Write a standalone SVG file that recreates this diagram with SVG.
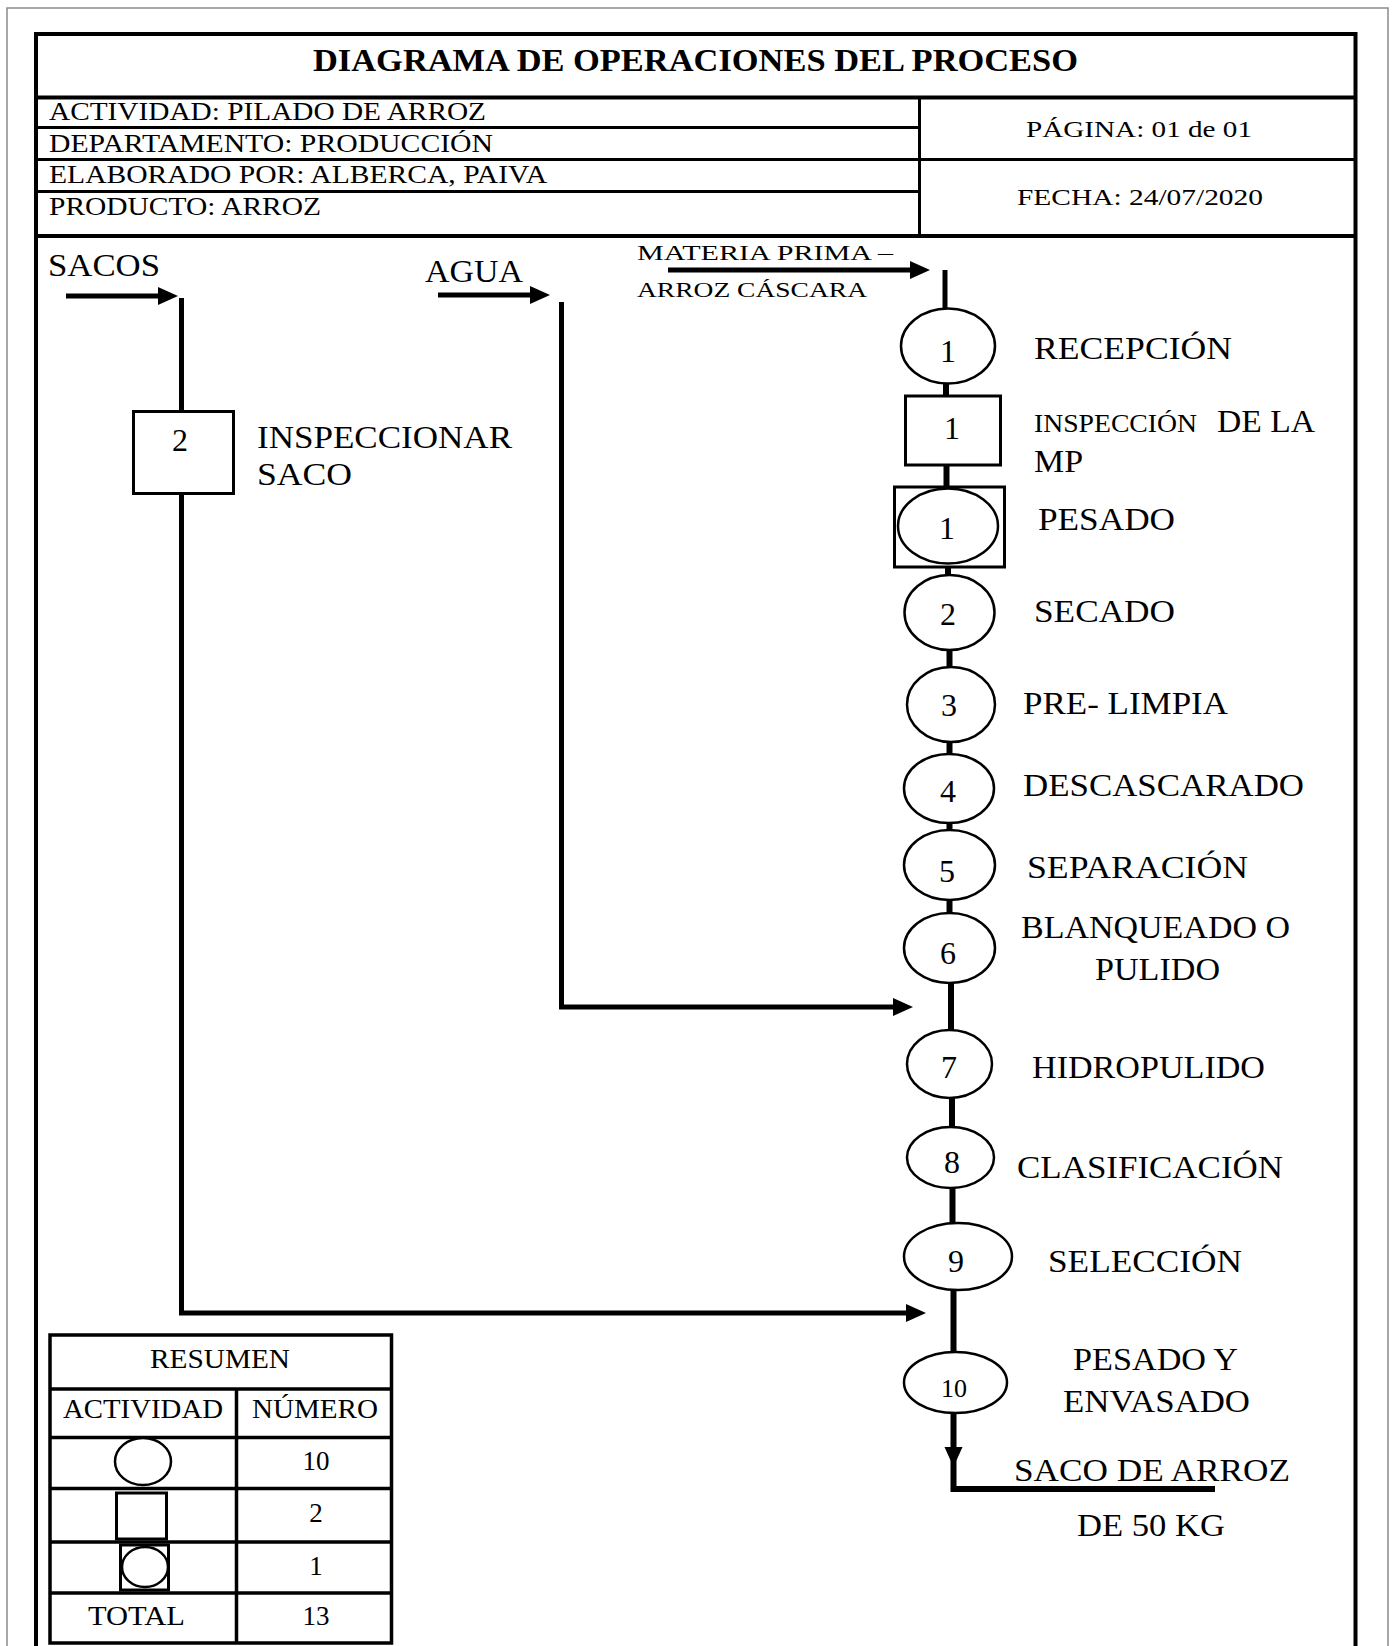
<svg xmlns="http://www.w3.org/2000/svg" width="1393" height="1646" viewBox="0 0 1393 1646">
<style>
text{font-family:'Liberation Serif','Times New Roman',serif;fill:#000}
.t{font-size:31px;font-weight:bold}
.h{font-size:25px}
.h2{font-size:23px}
.lbl{font-size:32px}
.sm{font-size:21px}
.num{font-size:32px;text-anchor:middle}
.rs{font-size:27px}
.rn{font-size:27px;text-anchor:middle}
.grid{stroke:#000;stroke-width:3;fill:none}
.frame{stroke:#000;stroke-width:4;fill:none}
.node{fill:#fff;stroke:#000;stroke-width:2.5}
.box{fill:#fff;stroke:#000;stroke-width:3}
.flow{stroke:#000;stroke-width:5;fill:none}
.chain{stroke:#000;stroke-width:6;fill:none}
.arr{marker-end:url(#ah)}
</style>
<defs>
<marker id="ah" markerUnits="userSpaceOnUse" markerWidth="22" markerHeight="20" refX="12" refY="9" orient="auto">
<path d="M0,0 L20,9 L0,18 Z" fill="#000"/>
</marker>
</defs>
<rect x="0" y="0" width="1393" height="1646" fill="#fff"/>
<path d="M7 1646 V8 H1388 V1646" fill="none" stroke="#8a8a8a" stroke-width="1.5"/>

<g id="header">
<path class="frame" d="M36 1650 V34 H1355.5 V1650"/>
<line class="frame" x1="36" y1="97.5" x2="1355.5" y2="97.5"/>
<line class="frame" x1="36" y1="236" x2="1355.5" y2="236"/>
<line class="grid" x1="919.5" y1="97.5" x2="919.5" y2="236"/>
<line class="grid" x1="36" y1="127.5" x2="919.5" y2="127.5"/>
<line class="grid" x1="36" y1="159.5" x2="1355.5" y2="159.5"/>
<line class="grid" x1="36" y1="191.5" x2="919.5" y2="191.5"/>
<text class="t" x="313" y="71" textLength="765" lengthAdjust="spacingAndGlyphs">DIAGRAMA DE OPERACIONES DEL PROCESO</text>
<text class="h" x="49" y="120" textLength="437" lengthAdjust="spacingAndGlyphs">ACTIVIDAD: PILADO DE ARROZ</text>
<text class="h" x="49" y="152" textLength="444" lengthAdjust="spacingAndGlyphs">DEPARTAMENTO: PRODUCCIÓN</text>
<text class="h" x="49" y="183" textLength="498" lengthAdjust="spacingAndGlyphs">ELABORADO POR: ALBERCA, PAIVA</text>
<text class="h" x="49" y="215" textLength="272" lengthAdjust="spacingAndGlyphs">PRODUCTO: ARROZ</text>
<text class="h2" x="1026" y="137" textLength="226" lengthAdjust="spacingAndGlyphs">PÁGINA: 01 de 01</text>
<text class="h2" x="1017" y="205" textLength="246" lengthAdjust="spacingAndGlyphs">FECHA: 24/07/2020</text>
</g>

<g id="connectors">
<path class="flow arr" d="M66 296 H170"/>
<path class="flow arr" d="M181.5 298 V1313 H918"/>
<path class="flow arr" d="M438 295 H542"/>
<path class="flow arr" d="M561.5 302 V1007 H905"/>
<path class="flow arr" d="M668 270 H922"/>
<path class="flow" d="M945 270 V310"/>
<path class="chain" d="M946 382 V397"/>
<path class="chain" d="M946.5 464 V488"/>
<path class="chain" d="M948 566 V576"/>
<path class="chain" d="M949.5 649 V668"/>
<path class="chain" d="M949.5 741 V755"/>
<path class="chain" d="M949.5 822 V831"/>
<path class="chain" d="M949.5 899 V914"/>
<path class="chain" d="M951 982 V1031"/>
<path class="chain" d="M952 1097 V1128"/>
<path class="chain" d="M952.5 1187 V1224"/>
<path class="chain" d="M953.5 1289 V1353"/>
<path class="chain arr" d="M953.5 1412 V1459"/>
<path class="chain" d="M953.5 1455 V1489 H1215"/>
</g>

<g id="inputs">
<text class="lbl" x="48" y="276" textLength="112" lengthAdjust="spacingAndGlyphs">SACOS</text>
<text class="lbl" x="425" y="282" textLength="98" lengthAdjust="spacingAndGlyphs">AGUA</text>
<text class="sm" x="637" y="260" textLength="256" lengthAdjust="spacingAndGlyphs">MATERIA PRIMA –</text>
<text class="sm" x="637" y="297" textLength="230" lengthAdjust="spacingAndGlyphs">ARROZ CÁSCARA</text>
</g>

<g id="insp2">
<rect class="box" x="133.5" y="411.5" width="100" height="82"/>
<text class="num" x="180" y="451">2</text>
<text class="lbl" x="257" y="448" textLength="255" lengthAdjust="spacingAndGlyphs">INSPECCIONAR</text>
<text class="lbl" x="257" y="485" textLength="95" lengthAdjust="spacingAndGlyphs">SACO</text>
</g>

<g id="op1">
<ellipse class="node" cx="948" cy="346" rx="47" ry="37.5"/>
<text class="num" x="948" y="362">1</text>
<text class="lbl" x="1034" y="359" textLength="198" lengthAdjust="spacingAndGlyphs">RECEPCIÓN</text>
</g>

<g id="insp1">
<rect class="box" x="905.5" y="396" width="95" height="69"/>
<text class="num" x="952" y="439">1</text>
<text class="h" x="1034" y="432" textLength="163" lengthAdjust="spacingAndGlyphs">INSPECCIÓN</text>
<text class="lbl" x="1217" y="432" textLength="98" lengthAdjust="spacingAndGlyphs">DE LA</text>
<text class="lbl" x="1034" y="472" textLength="49" lengthAdjust="spacingAndGlyphs">MP</text>
</g>

<g id="comb1">
<rect class="box" x="894.5" y="487" width="110" height="80"/>
<ellipse class="node" cx="948" cy="526" rx="50" ry="37.5"/>
<text class="num" x="947" y="539">1</text>
<text class="lbl" x="1038" y="530" textLength="137" lengthAdjust="spacingAndGlyphs">PESADO</text>
</g>

<g id="op2">
<ellipse class="node" cx="949.5" cy="612.5" rx="45" ry="37.5"/>
<text class="num" x="948" y="625">2</text>
<text class="lbl" x="1034" y="622" textLength="141" lengthAdjust="spacingAndGlyphs">SECADO</text>
</g>

<g id="op3">
<ellipse class="node" cx="951" cy="704.5" rx="44" ry="37.5"/>
<text class="num" x="949" y="716">3</text>
<text class="lbl" x="1023" y="714" textLength="205" lengthAdjust="spacingAndGlyphs">PRE- LIMPIA</text>
</g>

<g id="op4">
<ellipse class="node" cx="949" cy="788.5" rx="45" ry="34.5"/>
<text class="num" x="948" y="802">4</text>
<text class="lbl" x="1023" y="796" textLength="281" lengthAdjust="spacingAndGlyphs">DESCASCARADO</text>
</g>

<g id="op5">
<ellipse class="node" cx="949.5" cy="865" rx="45.5" ry="35"/>
<text class="num" x="947" y="882">5</text>
<text class="lbl" x="1027" y="878" textLength="221" lengthAdjust="spacingAndGlyphs">SEPARACIÓN</text>
</g>

<g id="op6">
<ellipse class="node" cx="949.5" cy="948" rx="45.5" ry="35"/>
<text class="num" x="948" y="964">6</text>
<text class="lbl" x="1021" y="938" textLength="269" lengthAdjust="spacingAndGlyphs">BLANQUEADO O</text>
<text class="lbl" x="1095" y="980" textLength="125" lengthAdjust="spacingAndGlyphs">PULIDO</text>
</g>

<g id="op7">
<ellipse class="node" cx="949.5" cy="1064" rx="42.5" ry="34"/>
<text class="num" x="949" y="1078">7</text>
<text class="lbl" x="1032" y="1078" textLength="233" lengthAdjust="spacingAndGlyphs">HIDROPULIDO</text>
</g>

<g id="op8">
<ellipse class="node" cx="950.5" cy="1157.5" rx="43.5" ry="30.5"/>
<text class="num" x="952" y="1173">8</text>
<text class="lbl" x="1017" y="1178" textLength="266" lengthAdjust="spacingAndGlyphs">CLASIFICACIÓN</text>
</g>

<g id="op9">
<ellipse class="node" cx="958" cy="1256.5" rx="54" ry="33.5"/>
<text class="num" x="956" y="1272">9</text>
<text class="lbl" x="1048" y="1272" textLength="194" lengthAdjust="spacingAndGlyphs">SELECCIÓN</text>
</g>

<g id="op10">
<ellipse class="node" cx="955.5" cy="1382.5" rx="51.5" ry="30.5"/>
<text class="num" x="954" y="1397" style="font-size:26px">10</text>
<text class="lbl" x="1073" y="1370" textLength="165" lengthAdjust="spacingAndGlyphs">PESADO Y</text>
<text class="lbl" x="1063" y="1412" textLength="187" lengthAdjust="spacingAndGlyphs">ENVASADO</text>
</g>

<g id="output">
<text class="lbl" x="1014" y="1481" textLength="276" lengthAdjust="spacingAndGlyphs">SACO DE ARROZ</text>
<text class="lbl" x="1077" y="1536" textLength="148" lengthAdjust="spacingAndGlyphs">DE 50 KG</text>
</g>

<g id="resumen">
<rect x="50" y="1335" width="341.5" height="308" fill="none" stroke="#000" stroke-width="3.5"/>
<g stroke="#000" stroke-width="3.5">
<line x1="50" y1="1389" x2="391.5" y2="1389"/>
<line x1="50" y1="1437.5" x2="391.5" y2="1437.5"/>
<line x1="50" y1="1488.5" x2="391.5" y2="1488.5"/>
<line x1="50" y1="1542" x2="391.5" y2="1542"/>
<line x1="50" y1="1593" x2="391.5" y2="1593"/>
<line x1="236.5" y1="1389" x2="236.5" y2="1643"/>
</g>
<text class="rs" x="150" y="1368" textLength="140" lengthAdjust="spacingAndGlyphs">RESUMEN</text>
<text class="rs" x="63" y="1418" textLength="160" lengthAdjust="spacingAndGlyphs">ACTIVIDAD</text>
<text class="rs" x="252" y="1418" textLength="126" lengthAdjust="spacingAndGlyphs">NÚMERO</text>
<ellipse class="node" cx="143" cy="1461.5" rx="28" ry="23.5"/>
<text class="rn" x="316" y="1470">10</text>
<rect class="box" x="116.5" y="1493" width="50" height="46"/>
<text class="rn" x="316" y="1522">2</text>
<rect class="box" x="120.5" y="1545" width="48" height="45"/>
<ellipse class="node" cx="145" cy="1567" rx="23" ry="20"/>
<text class="rn" x="316" y="1575">1</text>
<text class="rs" x="88" y="1625" textLength="97" lengthAdjust="spacingAndGlyphs">TOTAL</text>
<text class="rn" x="316" y="1625">13</text>
</g>
</svg>
